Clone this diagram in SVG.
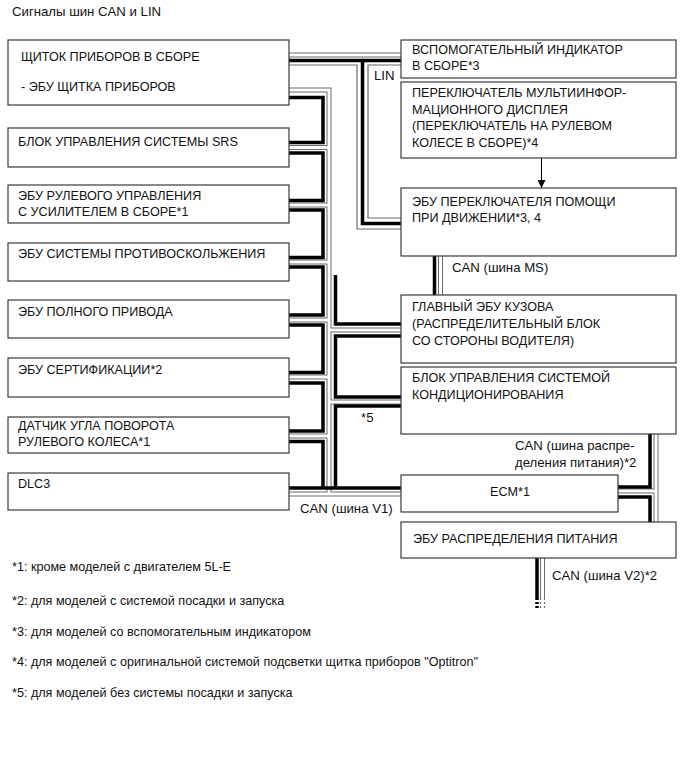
<svg xmlns="http://www.w3.org/2000/svg" width="691" height="757" viewBox="0 0 691 757">
<style>
.bg{fill:#fff}
.box{fill:#fff;stroke:#3a3a3a;stroke-width:1.2}
.t{font-family:"Liberation Sans",Arial,sans-serif;font-size:12.6px;fill:#111}
.lb{font-family:"Liberation Sans",Arial,sans-serif;font-size:13.2px;fill:#111}
.fn{font-family:"Liberation Sans",Arial,sans-serif;font-size:12.6px;fill:#111}
.blk{fill:none;stroke:#000;stroke-width:3.5}
.hg{fill:none;stroke:#6a6a6a;stroke-width:5}
.hw{fill:none;stroke:#fff;stroke-width:3}
.thin{fill:none;stroke:#6a6a6a;stroke-width:1.2}
.arr{fill:none;stroke:#000;stroke-width:1}
</style>
<defs>
<marker id="ah" viewBox="0 0 10 10" refX="10" refY="5" markerWidth="8" markerHeight="8" markerUnits="userSpaceOnUse" orient="auto"><path d="M0,0 L10,5 L0,10 z" fill="#000"/></marker>
<path id="h_top" d="M289 55 H401"/>
<path id="h_trunk" d="M289 90 H329 V494"/>
<path id="h_b" d="M289 147.5 H329 M289 205 H329 M289 262 H329 M289 320 H329 M289 377 H329 M289 436 H329 M289 494 H401 M329 330 H401 M329 402 H401"/>
<path id="h_ms" d="M440.5 256 V295"/>
<path id="h_pd" d="M656 434 V522 M618 491 H656"/>
<path id="h_v2" d="M542.5 558 V598"/>
</defs>
<rect class="bg" x="0" y="0" width="691" height="757"/>
<text class="lb" x="12" y="16">Сигналы шин CAN и LIN</text>

<g id="connectors">
<use href="#h_top" class="hg"/><use href="#h_trunk" class="hg"/><use href="#h_b" class="hg"/><use href="#h_ms" class="hg"/><use href="#h_pd" class="hg"/><use href="#h_v2" class="hg"/>
<use href="#h_top" class="hw"/><use href="#h_trunk" class="hw"/><use href="#h_b" class="hw"/><use href="#h_ms" class="hw"/><use href="#h_pd" class="hw"/><use href="#h_v2" class="hw"/>
<path class="thin" d="M289 65 H357 V229 H401 M401 65 H368 V218 H401"/>
<path class="blk" d="M289 60.5 H401 M362.5 60.5 V223.5 H401"/>
<path class="blk" d="M289 97.5 H323 V142.5 H289 M289 153 H323 V200.5 H289 M289 210 H323 V257.5 H289 M289 267 H323 V315 H289 M289 325 H323 V372.5 H289 M289 383 H323 V431 H289 M289 441.5 H323 V488 M289 488 H401"/>
<path class="blk" d="M335.5 275 V324 H401 M401 336 H335.5 V397 H401 M401 406 H335.5 V488"/>
<path class="blk" d="M434.5 256 V295"/>
<path class="blk" d="M650 434 V487 H618 M618 497 H650 V522"/>
<path class="blk" d="M537 558 V598"/>
<path class="blk" d="M537 598 V608" stroke-dasharray="2 2"/>
<path class="thin" d="M540.5 598 V608 M544.5 598 V608" stroke-dasharray="2 2"/>
<path class="arr" d="M541.5 158 V188" marker-end="url(#ah)"/>
<text class="lb" x="374" y="80">LIN</text>
<text class="lb" x="452" y="272">CAN (шина MS)</text>
<text class="lb" x="361" y="422">*5</text>
<text class="lb" x="300" y="513">CAN (шина V1)</text>
<text class="lb" x="515" y="450">CAN (шина распре-</text>
<text class="lb" x="515" y="467">деления питания)*2</text>
<text class="lb" x="552" y="580">CAN (шина V2)*2</text>
</g>

<g id="n_meter"><rect class="box" x="8" y="40" width="281" height="65"/><text class="t" x="21" y="61">ЩИТОК ПРИБОРОВ В СБОРЕ</text><text class="t" x="21" y="91">- ЭБУ ЩИТКА ПРИБОРОВ</text></g>
<g id="n_srs"><rect class="box" x="8" y="128" width="281" height="39"/><text class="t" x="18" y="146">БЛОК УПРАВЛЕНИЯ СИСТЕМЫ SRS</text></g>
<g id="n_eps"><rect class="box" x="8" y="185" width="281" height="38"/><text class="t" x="18" y="200">ЭБУ РУЛЕВОГО УПРАВЛЕНИЯ</text><text class="t" x="18" y="216">С УСИЛИТЕЛЕМ В СБОРЕ*1</text></g>
<g id="n_skid"><rect class="box" x="8" y="243" width="281" height="38"/><text class="t" x="18" y="258">ЭБУ СИСТЕМЫ ПРОТИВОСКОЛЬЖЕНИЯ</text></g>
<g id="n_4wd"><rect class="box" x="8" y="300" width="281" height="38"/><text class="t" x="18" y="316">ЭБУ ПОЛНОГО ПРИВОДА</text></g>
<g id="n_cert"><rect class="box" x="8" y="358" width="281" height="39"/><text class="t" x="18" y="374">ЭБУ СЕРТИФИКАЦИИ*2</text></g>
<g id="n_steer"><rect class="box" x="8" y="417" width="281" height="36"/><text class="t" x="18" y="430">ДАТЧИК УГЛА ПОВОРОТА</text><text class="t" x="18" y="446">РУЛЕВОГО КОЛЕСА*1</text></g>
<g id="n_dlc3"><rect class="box" x="8" y="473" width="281" height="37"/><text class="t" x="18" y="488">DLC3</text></g>

<g id="n_subind"><rect class="box" x="401" y="40" width="275" height="38"/><text class="t" x="412" y="54">ВСПОМОГАТЕЛЬНЫЙ ИНДИКАТОР</text><text class="t" x="412" y="70">В СБОРЕ*3</text></g>
<g id="n_multisw"><rect class="box" x="401" y="82" width="275" height="76"/><text class="t" x="412" y="97">ПЕРЕКЛЮЧАТЕЛЬ МУЛЬТИИНФОР-</text><text class="t" x="412" y="114">МАЦИОННОГО ДИСПЛЕЯ</text><text class="t" x="412" y="130">(ПЕРЕКЛЮЧАТЕЛЬ НА РУЛЕВОМ</text><text class="t" x="412" y="147">КОЛЕСЕ В СБОРЕ)*4</text></g>
<g id="n_drvsw"><rect class="box" x="401" y="188" width="275" height="68"/><text class="t" x="412" y="206">ЭБУ ПЕРЕКЛЮЧАТЕЛЯ ПОМОЩИ</text><text class="t" x="412" y="222">ПРИ ДВИЖЕНИИ*3, 4</text></g>
<g id="n_body"><rect class="box" x="401" y="295" width="275" height="68"/><text class="t" x="412" y="311">ГЛАВНЫЙ ЭБУ КУЗОВА</text><text class="t" x="412" y="328">(РАСПРЕДЕЛИТЕЛЬНЫЙ БЛОК</text><text class="t" x="412" y="345">СО СТОРОНЫ ВОДИТЕЛЯ)</text></g>
<g id="n_ac"><rect class="box" x="401" y="367" width="275" height="67"/><text class="t" x="412" y="382">БЛОК УПРАВЛЕНИЯ СИСТЕМОЙ</text><text class="t" x="412" y="399">КОНДИЦИОНИРОВАНИЯ</text></g>
<g id="n_ecm"><rect class="box" x="401" y="475" width="217" height="37"/><text class="t" x="510" y="496" text-anchor="middle">ECM*1</text></g>
<g id="n_pd"><rect class="box" x="401" y="522" width="275" height="36"/><text class="t" x="413" y="543">ЭБУ РАСПРЕДЕЛЕНИЯ ПИТАНИЯ</text></g>

<g id="footnotes">
<text class="fn" x="12" y="571">*1: кроме моделей с двигателем 5L-E</text>
<text class="fn" x="12" y="605">*2: для моделей с системой посадки и запуска</text>
<text class="fn" x="12" y="636">*3: для моделей со вспомогательным индикатором</text>
<text class="fn" x="12" y="666">*4: для моделей с оригинальной системой подсветки щитка приборов "Optitron"</text>
<text class="fn" x="12" y="697">*5: для моделей без системы посадки и запуска</text>
</g>
</svg>
